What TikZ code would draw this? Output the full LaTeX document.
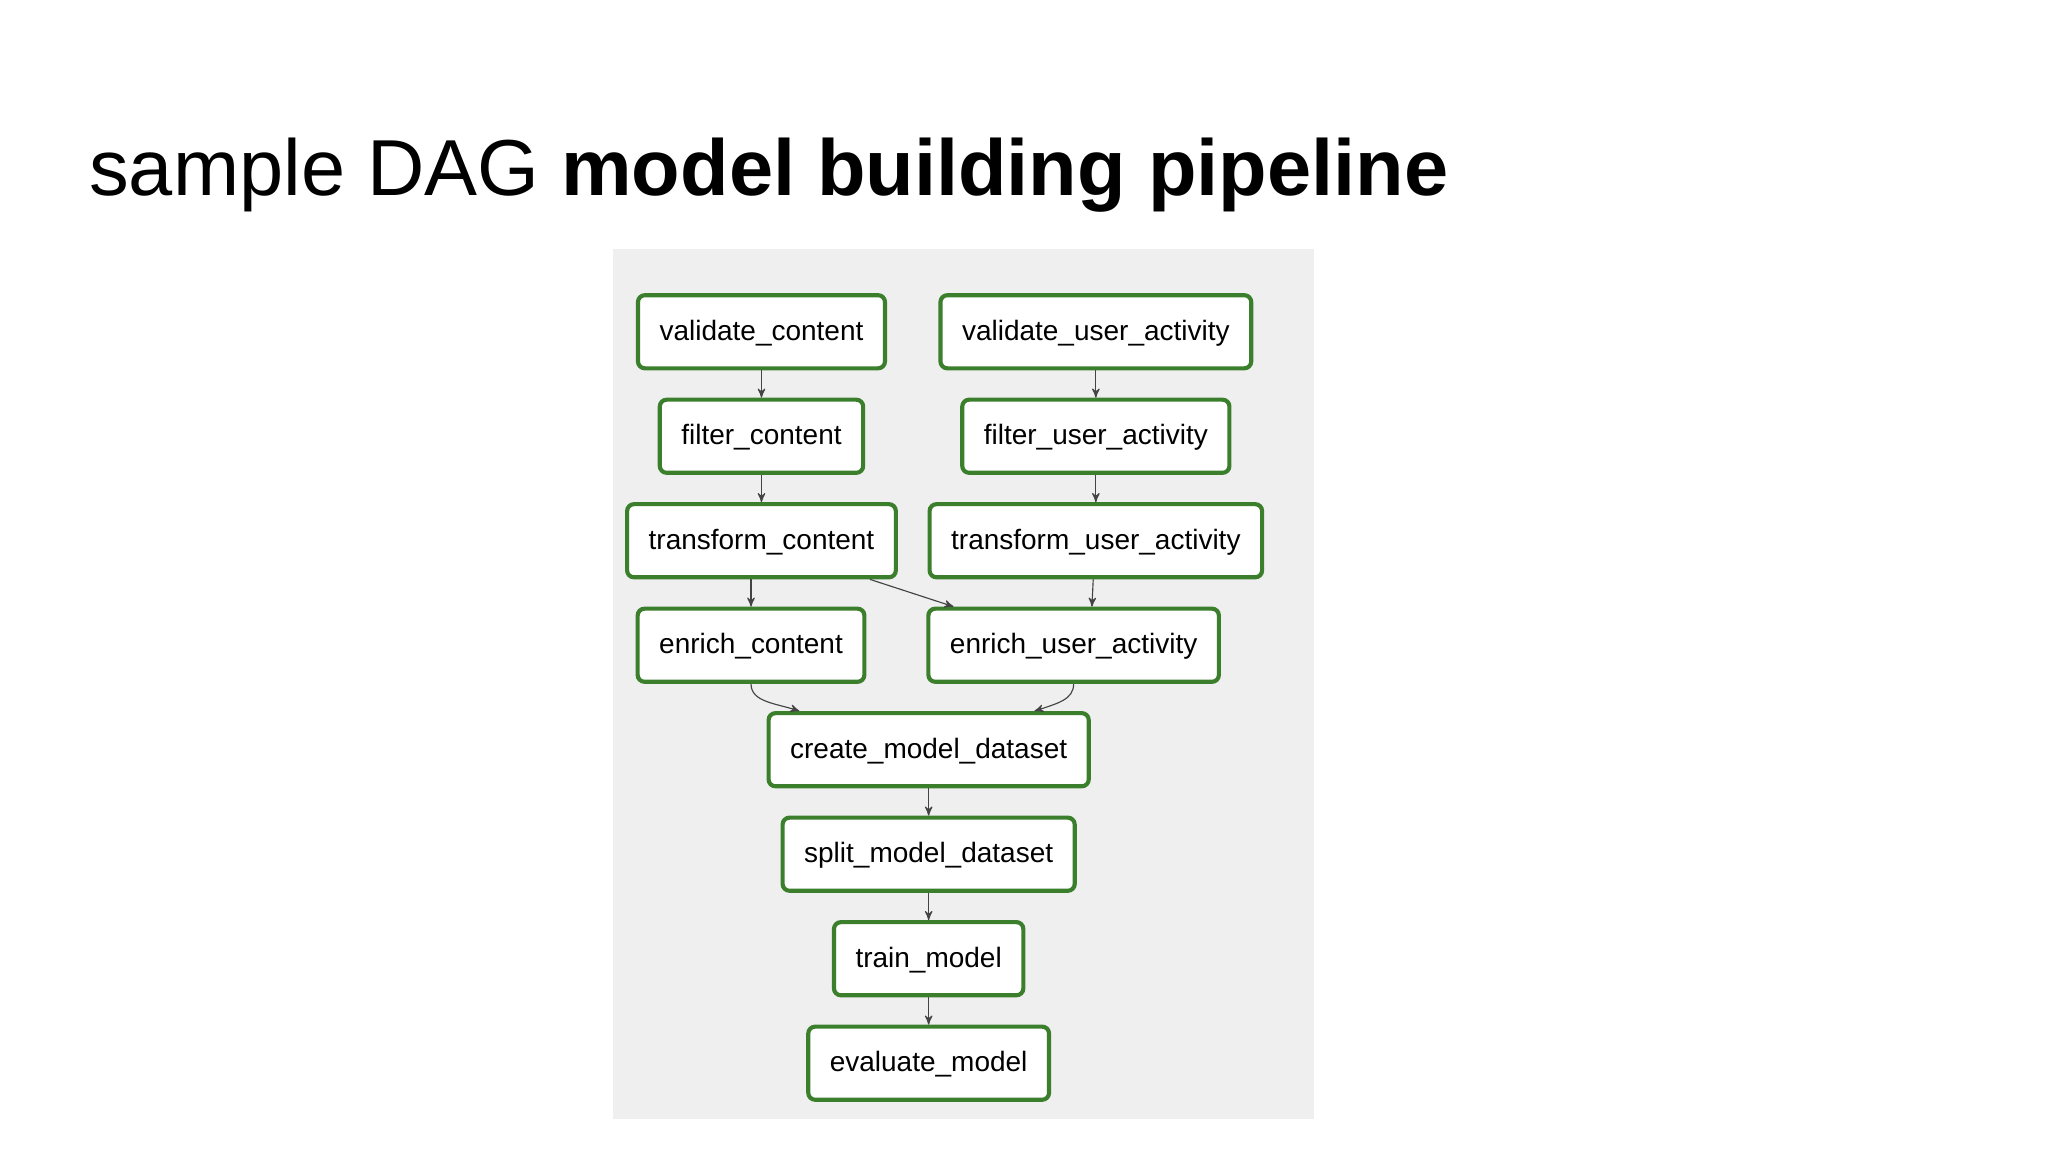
\documentclass[tikz,border=0pt]{standalone}
\usepackage{fontspec}
\setmainfont{Liberation Sans}
\usetikzlibrary{arrows,calc,positioning}

\definecolor{panelgray}{HTML}{EFEFEF}
\definecolor{taskgreen}{HTML}{3B7F2C}
\definecolor{edgegray}{HTML}{444444}

\begin{document}
\begin{tikzpicture}[x=0.02cm,y=-0.02cm,
  task/.style={draw=taskgreen,line width=1.8pt,rounded corners=3pt,fill=white,
    minimum height=1.12cm,inner xsep=0.33cm,text height=1.6ex,text depth=0.2ex,
    font=\fontsize{12.2}{14}\selectfont},
  dep/.style={->,>=stealth',draw=edgegray,line width=0.5pt}]
\useasboundingbox (0,0) rectangle (1568,882);
\fill[panelgray] (469,191) rectangle (1006,857);
% title
\node[anchor=base west,inner sep=0pt,font=\fontsize{34.6}{38}\selectfont] (title) at (68,150)
  {sample DAG \textbf{model building pipeline}};
% tasks
\node[task] (vc)  at (583,254) {validate\_content};
\node[task] (vua) at (839,254) {validate\_user\_activity};
\node[task] (fc)  at (583,334) {filter\_content};
\node[task] (fua) at (839,334) {filter\_user\_activity};
\node[task] (tc)  at (583,414) {transform\_content};
\node[task] (tua) at (839,414) {transform\_user\_activity};
\node[task] (ec)  at (575,494) {enrich\_content};
\node[task] (eua) at (822,494) {enrich\_user\_activity};
\node[task] (cmd) at (711,574) {create\_model\_dataset};
\node[task] (smd) at (711,654) {split\_model\_dataset};
\node[task] (tm)  at (711,734) {train\_model};
\node[task] (em)  at (711,814) {evaluate\_model};
% dependencies
\draw[dep] (vc) -- (fc);
\draw[dep] (fc) -- (tc);
\draw[dep] (vua) -- (fua);
\draw[dep] (fua) -- (tua);
\draw[dep] ($(tc.south)+(-8,0)$) -- (ec.north);
\draw[dep] ($(tc.south)+(83,0)$) -- ($(eua.north)+(-92,0)$);
\draw[dep] ($(tua.south)+(-2,0)$) -- ($(eua.north)+(14,0)$);
\draw[dep] (ec.south) .. controls +(0,14) and +(-18,-6) .. ($(cmd.north)+(-99,0)$);
\draw[dep] (eua.south) .. controls +(0,12) and +(18,-6) .. ($(cmd.north)+(81,0)$);
\draw[dep] (cmd) -- (smd);
\draw[dep] (smd) -- (tm);
\draw[dep] (tm) -- (em);
\end{tikzpicture}
\end{document}
